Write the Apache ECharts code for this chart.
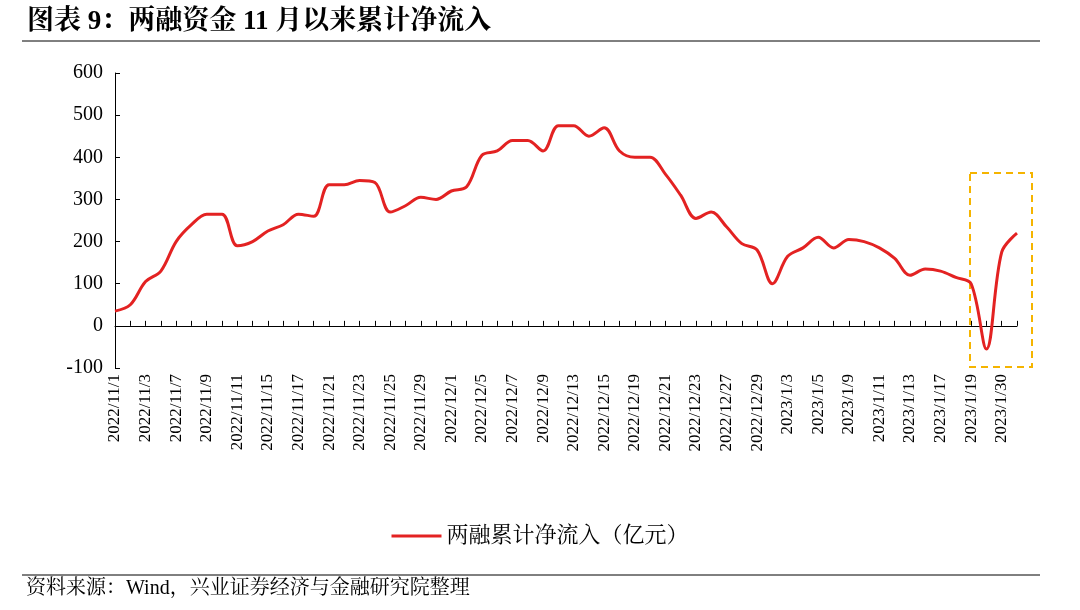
<!DOCTYPE html>
<html><head><meta charset="utf-8">
<script src="https://cdn.jsdelivr.net/npm/echarts@6/dist/echarts.min.js"></script>
<style>body{margin:0;background:#fff}#c{width:1080px;height:610px}</style></head>
<body><div id="c"></div>
<script>
const categories = ["2022/11/1","2022/11/2","2022/11/3","2022/11/4","2022/11/7","2022/11/8","2022/11/9","2022/11/10","2022/11/11","2022/11/14","2022/11/15","2022/11/16","2022/11/17","2022/11/18","2022/11/21","2022/11/22","2022/11/23","2022/11/24","2022/11/25","2022/11/28","2022/11/29","2022/11/30",
"2022/12/1","2022/12/2","2022/12/5","2022/12/6","2022/12/7","2022/12/8","2022/12/9","2022/12/12","2022/12/13","2022/12/14","2022/12/15","2022/12/16","2022/12/19","2022/12/20","2022/12/21","2022/12/22","2022/12/23","2022/12/26","2022/12/27","2022/12/28","2022/12/29","2022/12/30",
"2023/1/3","2023/1/4","2023/1/5","2023/1/6","2023/1/9","2023/1/10","2023/1/11","2023/1/12","2023/1/13","2023/1/16","2023/1/17","2023/1/18","2023/1/19","2023/1/20","2023/1/30","2023/1/31"];
const netInflow = [35,50,105,130,200,240,265,265,190,200,225,240,265,260,335,335,345,340,270,285,305,300,320,330,405,415,440,440,415,475,475,450,470,415,400,400,360,310,255,270,235,195,180,100,165,185,210,185,205,200,185,160,120,135,130,115,100,-55,175,220];
const seriesName = "两融累计净流入（亿元）";
const serif = "'Liberation Serif','Noto Serif CJK SC','Noto Sans CJK SC',serif";
const chart = echarts.init(document.getElementById('c'));
chart.setOption({
  animation:false,
  title:{text:"图表 9：两融资金 11 月以来累计净流入",left:22,top:4,textStyle:{fontFamily:serif,fontSize:27,fontWeight:'bold',color:'#000'}},
  graphic:[
    {type:'line',shape:{x1:22,y1:41,x2:1040,y2:41},style:{stroke:'#000',lineWidth:1}},
    {type:'line',shape:{x1:22,y1:575,x2:1040,y2:575},style:{stroke:'#000',lineWidth:1}},
    {type:'text',left:26,top:579,style:{text:"资料来源：Wind，兴业证券经济与金融研究院整理",font:"20px "+serif,fill:'#000'}},
    {type:'rect',shape:{x:970,y:173,width:62,height:194},style:{fill:'none',stroke:'#f5b400',lineWidth:2,lineDash:[7,5]}}
  ],
  legend:{bottom:58,left:'center',itemWidth:50,itemHeight:3,icon:'rect',textStyle:{fontFamily:serif,fontSize:22,color:'#000'}},
  grid:{left:115,right:63,top:73,bottom:242},
  xAxis:[
    {type:'category',data:categories,boundaryGap:false,axisLine:{show:false,onZero:false},axisTick:{show:false},
     axisLabel:{rotate:90,interval:1,fontFamily:serif,fontSize:17,color:'#000',margin:6}},
    {type:'category',data:categories,position:'bottom',boundaryGap:false,axisLine:{onZero:true,lineStyle:{color:'#000'}},
     axisTick:{show:true,interval:0,inside:true,length:5,lineStyle:{color:'#000'}},axisLabel:{show:false}}
  ],
  yAxis:{type:'value',min:-100,max:600,interval:100,splitLine:{show:false},
    axisLine:{show:true,lineStyle:{color:'#000'}},axisTick:{show:true,inside:true,length:5,lineStyle:{color:'#000'}},
    axisLabel:{fontFamily:serif,fontSize:20,color:'#000',margin:12}},
  series:[{name:seriesName,type:'line',data:netInflow,smooth:0.35,showSymbol:false,lineStyle:{color:'#e32222',width:3},itemStyle:{color:'#e32222'}}]
});
</script></body></html>
